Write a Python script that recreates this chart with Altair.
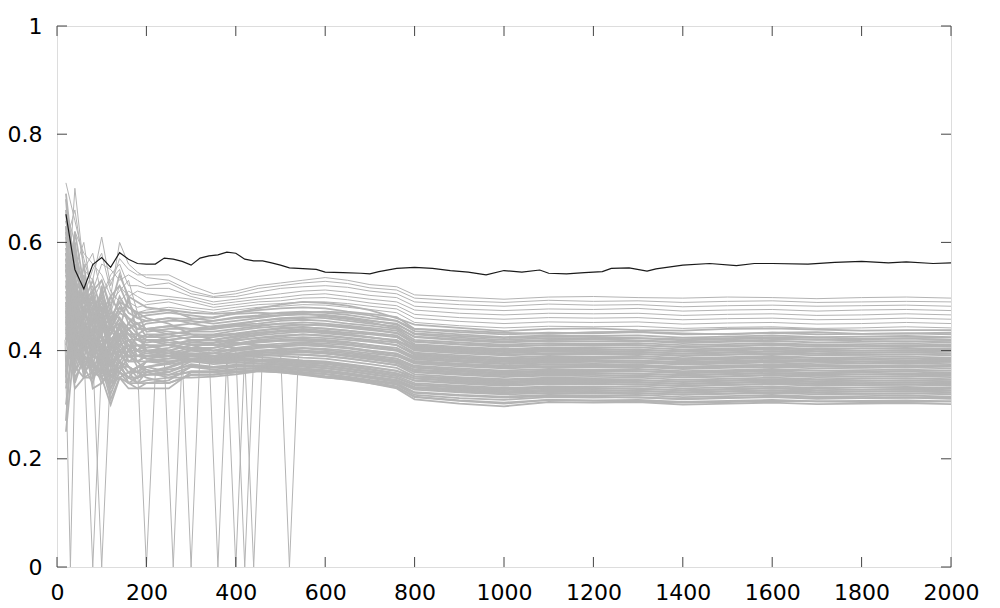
import altair as alt
import pandas as pd

# common x grid of the gray series
grid_x = [20, 40, 60, 80, 100, 120, 140, 160, 180, 200,
          250, 300, 350, 400, 450, 500, 550, 600, 650, 700, 760,
          800, 900, 1000, 1100, 1200, 1300, 1400, 1500, 1600, 1700, 1800, 1900, 2000]

# upper, sparse gray series
gray_upper = [
    [0.60,0.66,0.55,0.53,0.61,0.52,0.57,0.55,0.54,0.54, 0.54,0.52,0.505,0.51,0.52,0.525,0.53,0.535,0.53,0.522,0.518, 0.503,0.499,0.495,0.499,0.500,0.498,0.497,0.499,0.498,0.496,0.498,0.499,0.497],
    [0.52,0.62,0.58,0.56,0.54,0.50,0.60,0.56,0.545,0.535, 0.53,0.51,0.50,0.505,0.515,0.52,0.525,0.528,0.524,0.516,0.512, 0.497,0.492,0.489,0.493,0.491,0.492,0.489,0.491,0.492,0.489,0.490,0.491,0.490],
    [0.71,0.64,0.57,0.51,0.56,0.55,0.53,0.54,0.53,0.52, 0.525,0.505,0.498,0.50,0.508,0.515,0.518,0.52,0.517,0.51,0.505, 0.490,0.485,0.482,0.486,0.484,0.485,0.481,0.483,0.484,0.482,0.483,0.484,0.482],
    [0.45,0.70,0.55,0.58,0.50,0.54,0.56,0.52,0.52,0.515, 0.515,0.50,0.49,0.495,0.50,0.505,0.51,0.512,0.508,0.502,0.498, 0.482,0.477,0.474,0.477,0.476,0.478,0.473,0.475,0.476,0.473,0.475,0.476,0.474],
    [0.58,0.55,0.60,0.49,0.53,0.47,0.52,0.50,0.51,0.505, 0.50,0.495,0.485,0.49,0.495,0.498,0.503,0.505,0.50,0.495,0.49, 0.475,0.469,0.466,0.469,0.468,0.469,0.465,0.467,0.468,0.465,0.466,0.468,0.466],
    [0.66,0.60,0.50,0.55,0.58,0.51,0.49,0.51,0.50,0.49, 0.495,0.49,0.48,0.485,0.49,0.492,0.497,0.498,0.494,0.488,0.483, 0.467,0.461,0.458,0.461,0.46,0.461,0.457,0.459,0.46,0.457,0.458,0.46,0.458],
    [0.40,0.57,0.52,0.47,0.50,0.53,0.55,0.49,0.48,0.485, 0.49,0.48,0.475,0.48,0.485,0.487,0.49,0.49,0.487,0.482,0.477, 0.46,0.454,0.45,0.453,0.452,0.453,0.449,0.451,0.452,0.449,0.45,0.452,0.45],
    [0.55,0.52,0.47,0.52,0.45,0.49,0.51,0.53,0.47,0.475, 0.48,0.475,0.47,0.475,0.48,0.482,0.485,0.484,0.48,0.476,0.47, 0.452,0.446,0.442,0.445,0.444,0.445,0.441,0.443,0.444,0.441,0.442,0.444,0.442],
]

# dense gray series
gray_dense = [
    [0.50,0.49,0.53,0.44,0.48,0.45,0.50,0.47,0.46,0.465, 0.47,0.465,0.46,0.47,0.475,0.478,0.48,0.478,0.472,0.468,0.462, 0.44,0.434,0.43,0.433,0.432,0.434,0.43,0.431,0.433,0.43,0.431,0.432,0.43],
    [0.63,0.45,0.48,0.50,0.43,0.47,0.46,0.44,0.45,0.455, 0.46,0.45,0.455,0.462,0.465,0.47,0.472,0.47,0.466,0.46,0.455, 0.436,0.43,0.425,0.428,0.427,0.428,0.424,0.426,0.428,0.425,0.426,0.427,0.425],
    [0.35,0.60,0.45,0.42,0.52,0.44,0.48,0.46,0.44,0.45, 0.455,0.455,0.45,0.455,0.46,0.465,0.467,0.465,0.46,0.455,0.45, 0.43,0.424,0.42,0.423,0.422,0.423,0.419,0.421,0.423,0.42,0.421,0.422,0.42],
    [0.47,0.52,0.40,0.46,0.46,0.41,0.44,0.50,0.43,0.44, 0.445,0.44,0.445,0.45,0.455,0.46,0.462,0.46,0.455,0.45,0.445, 0.425,0.419,0.415,0.418,0.417,0.418,0.414,0.416,0.418,0.415,0.416,0.417,0.415],
    [0.53,0.41,0.50,0.39,0.44,0.48,0.42,0.45,0.47,0.435, 0.44,0.44,0.44,0.447,0.45,0.455,0.457,0.455,0.45,0.446,0.44, 0.42,0.415,0.411,0.414,0.413,0.414,0.41,0.412,0.414,0.411,0.412,0.413,0.411],
    [0.68,0.48,0.44,0.47,0.40,0.43,0.46,0.42,0.42,0.43, 0.43,0.435,0.435,0.44,0.445,0.45,0.452,0.45,0.446,0.442,0.437, 0.416,0.411,0.407,0.41,0.409,0.41,0.406,0.408,0.41,0.407,0.408,0.409,0.407],
    [0.30,0.44,0.56,0.44,0.47,0.39,0.43,0.44,0.45,0.425, 0.425,0.43,0.43,0.437,0.442,0.445,0.448,0.446,0.442,0.438,0.433, 0.412,0.407,0.403,0.406,0.405,0.406,0.402,0.404,0.406,0.403,0.404,0.405,0.403],
    [0.57,0.38,0.42,0.41,0.38,0.46,0.40,0.41,0.40,0.42, 0.42,0.425,0.425,0.43,0.437,0.44,0.443,0.441,0.437,0.433,0.428, 0.408,0.403,0.399,0.402,0.401,0.402,0.398,0.4,0.402,0.399,0.4,0.401,0.399],
    [0.43,0.54,0.38,0.48,0.42,0.37,0.45,0.43,0.41,0.41, 0.41,0.42,0.42,0.427,0.433,0.437,0.44,0.437,0.433,0.43,0.425, 0.404,0.399,0.395,0.398,0.397,0.398,0.394,0.396,0.398,0.395,0.396,0.397,0.395],
    [0.49,0.43,0.47,0.37,0.45,0.42,0.38,0.40,0.43,0.40, 0.405,0.415,0.415,0.422,0.428,0.432,0.435,0.432,0.428,0.424,0.42, 0.40,0.395,0.391,0.394,0.393,0.394,0.39,0.392,0.394,0.391,0.392,0.393,0.391],
    [0.62,0.36,0.41,0.43,0.36,0.40,0.42,0.38,0.39,0.395, 0.40,0.41,0.41,0.418,0.424,0.428,0.43,0.428,0.424,0.42,0.415, 0.396,0.391,0.387,0.39,0.389,0.39,0.386,0.388,0.39,0.387,0.388,0.389,0.387],
    [0.38,0.47,0.35,0.40,0.43,0.35,0.39,0.41,0.38,0.39, 0.395,0.405,0.405,0.413,0.42,0.423,0.425,0.423,0.42,0.416,0.41, 0.392,0.387,0.383,0.386,0.385,0.386,0.382,0.384,0.386,0.383,0.384,0.385,0.383],
    [0.45,0.40,0.44,0.35,0.39,0.38,0.36,0.39,0.40,0.385, 0.39,0.40,0.40,0.41,0.415,0.418,0.42,0.418,0.415,0.41,0.405, 0.388,0.383,0.379,0.382,0.381,0.382,0.378,0.38,0.382,0.379,0.38,0.381,0.379],
    [0.56,0.34,0.39,0.38,0.34,0.36,0.40,0.37,0.36,0.38, 0.385,0.395,0.395,0.405,0.41,0.413,0.415,0.413,0.41,0.405,0.4, 0.384,0.379,0.375,0.378,0.377,0.378,0.374,0.376,0.378,0.375,0.376,0.377,0.375],
    [0.25,0.42,0.36,0.42,0.37,0.33,0.37,0.35,0.37,0.37, 0.375,0.39,0.39,0.4,0.405,0.408,0.41,0.408,0.405,0.4,0.395, 0.38,0.375,0.371,0.374,0.373,0.374,0.37,0.372,0.374,0.371,0.372,0.373,0.371],
    [0.40,0.37,0.35,0.36,0.35,0.30,0.35,0.36,0.34,0.36, 0.37,0.385,0.385,0.395,0.4,0.403,0.405,0.403,0.4,0.395,0.39, 0.376,0.371,0.367,0.37,0.369,0.37,0.366,0.368,0.37,0.367,0.368,0.369,0.367],
    [0.52,0.45,0.37,0.34,0.40,0.34,0.38,0.34,0.35,0.355, 0.36,0.38,0.38,0.39,0.395,0.398,0.4,0.398,0.395,0.39,0.385, 0.372,0.367,0.363,0.366,0.365,0.366,0.362,0.364,0.366,0.363,0.364,0.365,0.363],
    [0.27,0.50,0.43,0.45,0.48,0.42,0.44,0.42,0.41,0.40, 0.39,0.39,0.385,0.39,0.392,0.395,0.397,0.395,0.392,0.388,0.382, 0.368,0.363,0.359,0.362,0.361,0.362,0.358,0.36,0.362,0.359,0.36,0.361,0.359],
    [0.64,0.56,0.49,0.51,0.44,0.50,0.47,0.46,0.44,0.44, 0.43,0.42,0.41,0.405,0.40,0.40,0.398,0.395,0.39,0.385,0.38, 0.364,0.359,0.355,0.358,0.357,0.358,0.354,0.356,0.358,0.355,0.356,0.357,0.355],
    [0.48,0.58,0.52,0.47,0.51,0.46,0.49,0.48,0.47,0.46, 0.45,0.43,0.42,0.415,0.41,0.405,0.4,0.396,0.39,0.384,0.378, 0.36,0.355,0.351,0.354,0.353,0.354,0.35,0.352,0.354,0.351,0.352,0.353,0.351],
    [0.55,0.47,0.46,0.49,0.46,0.43,0.46,0.43,0.42,0.43, 0.42,0.41,0.40,0.40,0.398,0.395,0.392,0.39,0.385,0.38,0.373, 0.356,0.351,0.347,0.35,0.349,0.35,0.346,0.348,0.35,0.347,0.348,0.349,0.347],
    [0.42,0.53,0.50,0.45,0.49,0.44,0.43,0.45,0.43,0.42, 0.41,0.40,0.395,0.395,0.392,0.39,0.387,0.385,0.38,0.375,0.368, 0.352,0.347,0.343,0.346,0.345,0.346,0.342,0.344,0.346,0.343,0.344,0.345,0.343],
    [0.60,0.50,0.45,0.42,0.47,0.41,0.45,0.40,0.40,0.41, 0.40,0.395,0.39,0.39,0.388,0.385,0.382,0.38,0.375,0.37,0.363, 0.348,0.343,0.339,0.342,0.341,0.342,0.338,0.34,0.342,0.339,0.34,0.341,0.339],
    [0.36,0.46,0.54,0.40,0.42,0.39,0.41,0.42,0.39,0.40, 0.395,0.39,0.385,0.385,0.383,0.38,0.378,0.375,0.37,0.365,0.358, 0.344,0.339,0.335,0.338,0.337,0.338,0.334,0.336,0.338,0.335,0.336,0.337,0.335],
    [0.50,0.39,0.41,0.44,0.39,0.37,0.39,0.38,0.38,0.39, 0.385,0.385,0.38,0.382,0.38,0.377,0.374,0.371,0.366,0.36,0.353, 0.34,0.335,0.331,0.334,0.333,0.334,0.33,0.332,0.334,0.331,0.332,0.333,0.331],
    [0.44,0.35,0.38,0.36,0.41,0.35,0.38,0.36,0.37,0.38, 0.375,0.38,0.375,0.378,0.376,0.373,0.37,0.367,0.362,0.356,0.349, 0.336,0.331,0.327,0.33,0.329,0.33,0.326,0.328,0.33,0.327,0.328,0.329,0.327],
    [0.58,0.43,0.39,0.37,0.36,0.34,0.37,0.35,0.35,0.37, 0.36,0.375,0.37,0.374,0.372,0.37,0.366,0.363,0.358,0.352,0.345, 0.332,0.327,0.323,0.326,0.325,0.326,0.322,0.324,0.326,0.323,0.324,0.325,0.323],
    [0.33,0.41,0.37,0.39,0.38,0.32,0.36,0.34,0.34,0.34, 0.345,0.37,0.365,0.37,0.37,0.367,0.363,0.36,0.355,0.349,0.342, 0.328,0.323,0.319,0.322,0.321,0.322,0.318,0.32,0.322,0.319,0.32,0.321,0.319],
    [0.46,0.33,0.35,0.35,0.37,0.31,0.35,0.33,0.33,0.33, 0.33,0.36,0.36,0.365,0.368,0.365,0.36,0.357,0.352,0.346,0.34, 0.323,0.318,0.315,0.318,0.317,0.318,0.314,0.316,0.318,0.315,0.316,0.317,0.315],
    [0.39,0.38,0.43,0.33,0.34,0.36,0.40,0.37,0.36,0.35, 0.34,0.355,0.355,0.36,0.365,0.362,0.357,0.353,0.35,0.344,0.337, 0.318,0.312,0.309,0.314,0.313,0.314,0.31,0.312,0.314,0.311,0.312,0.313,0.311],
    [0.54,0.44,0.40,0.41,0.35,0.38,0.42,0.39,0.38,0.36, 0.35,0.35,0.352,0.356,0.362,0.36,0.355,0.35,0.347,0.342,0.334, 0.314,0.307,0.302,0.309,0.308,0.309,0.305,0.307,0.309,0.306,0.307,0.308,0.306],
    [0.41,0.49,0.42,0.43,0.40,0.35,0.37,0.40,0.37,0.365, 0.355,0.36,0.36,0.362,0.363,0.362,0.358,0.352,0.348,0.34,0.33, 0.31,0.302,0.297,0.305,0.304,0.305,0.3,0.302,0.304,0.301,0.302,0.303,0.301],
]

# further gray series inside the dense core
gray_filler = [
    [0.47,0.55,0.49,0.53,0.47,0.50,0.52,0.48,0.47,0.47, 0.475,0.47,0.468,0.47,0.478,0.485,0.49,0.488,0.483,0.475,0.46, 0.448,0.442,0.436,0.44,0.441,0.438,0.437,0.44,0.441,0.439,0.437,0.438,0.438],
    [0.56,0.46,0.51,0.45,0.50,0.44,0.47,0.49,0.46,0.455, 0.46,0.458,0.462,0.468,0.47,0.468,0.47,0.472,0.47,0.465,0.455, 0.44,0.437,0.433,0.431,0.434,0.435,0.432,0.43,0.433,0.434,0.431,0.432,0.433],
    [0.44,0.58,0.47,0.49,0.44,0.46,0.49,0.45,0.44,0.44, 0.445,0.45,0.443,0.448,0.455,0.458,0.46,0.463,0.458,0.452,0.442, 0.426,0.421,0.417,0.42,0.421,0.419,0.416,0.418,0.42,0.421,0.418,0.417,0.418],
    [0.61,0.50,0.43,0.46,0.48,0.40,0.45,0.43,0.43,0.425, 0.43,0.437,0.44,0.445,0.447,0.45,0.448,0.447,0.444,0.44,0.432, 0.417,0.412,0.409,0.41,0.412,0.41,0.407,0.409,0.411,0.41,0.408,0.409,0.41],
    [0.37,0.45,0.48,0.43,0.41,0.44,0.41,0.44,0.42,0.415, 0.42,0.425,0.428,0.432,0.437,0.442,0.444,0.44,0.437,0.432,0.425, 0.41,0.405,0.401,0.404,0.403,0.401,0.399,0.402,0.404,0.402,0.4,0.401,0.402],
    [0.51,0.40,0.45,0.41,0.43,0.38,0.43,0.40,0.41,0.405, 0.41,0.418,0.42,0.425,0.43,0.436,0.437,0.435,0.43,0.425,0.418, 0.402,0.397,0.393,0.395,0.396,0.394,0.391,0.393,0.395,0.394,0.392,0.393,0.394],
    [0.66,0.42,0.40,0.44,0.38,0.41,0.39,0.42,0.40,0.40, 0.40,0.41,0.414,0.42,0.423,0.426,0.43,0.427,0.423,0.418,0.41, 0.394,0.389,0.385,0.387,0.388,0.386,0.384,0.386,0.388,0.386,0.384,0.385,0.386],
    [0.42,0.51,0.37,0.39,0.41,0.37,0.41,0.38,0.38,0.39, 0.39,0.402,0.405,0.412,0.418,0.42,0.422,0.42,0.416,0.41,0.402, 0.386,0.381,0.377,0.38,0.38,0.378,0.376,0.378,0.38,0.379,0.377,0.378,0.379],
    [0.48,0.37,0.42,0.36,0.38,0.35,0.38,0.37,0.36,0.37, 0.378,0.39,0.395,0.403,0.408,0.41,0.413,0.41,0.406,0.4,0.393, 0.378,0.373,0.369,0.371,0.372,0.37,0.368,0.37,0.372,0.371,0.369,0.37,0.371],
    [0.59,0.44,0.38,0.38,0.36,0.36,0.36,0.35,0.35,0.36, 0.368,0.382,0.386,0.393,0.398,0.402,0.404,0.401,0.397,0.392,0.385, 0.37,0.365,0.361,0.363,0.364,0.362,0.36,0.362,0.364,0.363,0.361,0.362,0.363],
    [0.34,0.48,0.44,0.40,0.45,0.39,0.40,0.39,0.39,0.385, 0.38,0.385,0.383,0.387,0.39,0.392,0.393,0.39,0.386,0.38,0.373, 0.361,0.357,0.353,0.356,0.355,0.353,0.351,0.353,0.355,0.354,0.352,0.353,0.354],
    [0.52,0.43,0.47,0.43,0.44,0.42,0.44,0.41,0.41,0.40, 0.395,0.39,0.385,0.386,0.384,0.383,0.38,0.378,0.374,0.369,0.362, 0.353,0.349,0.345,0.348,0.347,0.345,0.343,0.345,0.347,0.346,0.344,0.345,0.346],
    [0.45,0.52,0.43,0.46,0.40,0.45,0.42,0.44,0.42,0.41, 0.40,0.392,0.385,0.383,0.381,0.379,0.376,0.372,0.367,0.362,0.355, 0.345,0.341,0.337,0.34,0.339,0.337,0.335,0.337,0.339,0.338,0.336,0.337,0.338],
    [0.63,0.47,0.41,0.42,0.43,0.37,0.40,0.39,0.38,0.38, 0.38,0.382,0.378,0.379,0.377,0.375,0.372,0.368,0.363,0.357,0.35, 0.337,0.333,0.329,0.332,0.331,0.329,0.327,0.329,0.331,0.33,0.328,0.329,0.33],
    [0.40,0.39,0.44,0.38,0.36,0.36,0.38,0.36,0.36,0.36, 0.365,0.372,0.37,0.372,0.371,0.368,0.365,0.361,0.356,0.35,0.343, 0.33,0.325,0.321,0.324,0.323,0.321,0.319,0.321,0.323,0.322,0.32,0.321,0.322],
    [0.49,0.36,0.39,0.37,0.39,0.33,0.36,0.35,0.34,0.345, 0.35,0.362,0.362,0.366,0.367,0.364,0.36,0.356,0.351,0.345,0.338, 0.322,0.317,0.313,0.316,0.315,0.313,0.311,0.313,0.315,0.314,0.312,0.313,0.314],
    [0.58,0.53,0.46,0.51,0.53,0.48,0.54,0.50,0.49,0.48, 0.475,0.46,0.455,0.46,0.463,0.465,0.468,0.466,0.462,0.456,0.448, 0.432,0.427,0.423,0.426,0.425,0.423,0.421,0.423,0.425,0.424,0.422,0.423,0.424],
    [0.46,0.62,0.52,0.48,0.50,0.45,0.48,0.46,0.45,0.44, 0.435,0.43,0.428,0.43,0.433,0.435,0.436,0.434,0.43,0.425,0.418, 0.406,0.401,0.397,0.4,0.399,0.397,0.395,0.397,0.399,0.398,0.396,0.397,0.398],
    [0.55,0.40,0.46,0.50,0.42,0.44,0.45,0.43,0.43,0.42, 0.415,0.412,0.41,0.414,0.416,0.418,0.418,0.416,0.412,0.407,0.4, 0.39,0.385,0.381,0.384,0.383,0.381,0.379,0.381,0.383,0.382,0.38,0.381,0.382],
    [0.38,0.45,0.41,0.47,0.40,0.41,0.43,0.40,0.39,0.39, 0.39,0.392,0.39,0.394,0.396,0.397,0.397,0.395,0.391,0.385,0.377, 0.365,0.361,0.357,0.36,0.359,0.357,0.355,0.357,0.359,0.358,0.356,0.357,0.358],
    [0.57,0.49,0.45,0.41,0.46,0.40,0.43,0.42,0.40,0.395, 0.39,0.385,0.38,0.382,0.383,0.382,0.38,0.377,0.372,0.366,0.358, 0.349,0.345,0.341,0.344,0.343,0.341,0.339,0.341,0.343,0.342,0.34,0.341,0.342],
    [0.47,0.41,0.38,0.40,0.37,0.35,0.37,0.37,0.35,0.355, 0.355,0.37,0.368,0.372,0.373,0.371,0.367,0.364,0.359,0.353,0.346, 0.333,0.329,0.325,0.328,0.327,0.325,0.323,0.325,0.327,0.326,0.324,0.325,0.326],
    [0.43,0.40,0.36,0.38,0.35,0.34,0.35,0.34,0.33,0.34, 0.34,0.355,0.356,0.36,0.362,0.36,0.356,0.351,0.346,0.34,0.332, 0.315,0.308,0.304,0.309,0.307,0.306,0.304,0.305,0.307,0.306,0.305,0.305,0.306],
    [0.69,0.54,0.45,0.45,0.47,0.43,0.46,0.44,0.42,0.42, 0.41,0.405,0.40,0.402,0.405,0.408,0.41,0.408,0.404,0.398,0.39, 0.381,0.376,0.372,0.375,0.374,0.372,0.37,0.372,0.374,0.373,0.371,0.372,0.373],
]

# short dips to zero seen below the band
spike_x = [30, 80, 100, 200, 260, 300, 360, 400, 420, 440, 520]
spike_left_y = [0.42, 0.40, 0.39, 0.37, 0.38, 0.39, 0.40, 0.39, 0.40, 0.39, 0.40]
spike_right_y = [0.44, 0.38, 0.37, 0.36, 0.39, 0.40, 0.39, 0.40, 0.39, 0.40, 0.39]
spike_half_width = [12, 20, 20, 20, 20, 20, 20, 20, 20, 20, 20]

# highlighted black series
black_x = [20, 40, 60, 80, 100, 120, 140, 160, 180, 200, 220, 240, 260, 280, 300, 320, 340, 360, 380, 400,
           420, 440, 460, 480, 500, 520, 540, 560, 580, 600, 640, 680, 700, 720, 760, 800, 840, 880, 920, 960,
           1000, 1040, 1080, 1100, 1140, 1180, 1220, 1240, 1280, 1320, 1340, 1400, 1460, 1520, 1560, 1600,
           1680, 1740, 1800, 1860, 1900, 1960, 2000]
black_y = [0.652, 0.550, 0.514, 0.559, 0.572, 0.554, 0.581, 0.569, 0.561, 0.560, 0.560, 0.571, 0.569, 0.565,
           0.558, 0.571, 0.575, 0.577, 0.582, 0.580, 0.569, 0.566, 0.566, 0.562, 0.558, 0.553, 0.552, 0.551,
           0.550, 0.545, 0.544, 0.543, 0.542, 0.546, 0.552, 0.554, 0.552, 0.548, 0.545, 0.540, 0.548, 0.545,
           0.549, 0.543, 0.542, 0.544, 0.546, 0.552, 0.553, 0.547, 0.551, 0.558, 0.561, 0.557, 0.561, 0.561,
           0.560, 0.563, 0.565, 0.562, 0.564, 0.561, 0.562]

x_ticks = [0, 200, 400, 600, 800, 1000, 1200, 1400, 1600, 1800, 2000]
y_ticks = [0, 0.2, 0.4, 0.6, 0.8, 1]

W, H = 894, 541
TICK = 10

rows = []
for group, lines in (("u", gray_upper), ("d", gray_dense), ("f", gray_filler)):
    for i, ys in enumerate(lines):
        for x, y in zip(grid_x, ys):
            rows.append({"series": f"{group}{i}", "grp": group, "x": x, "y": y})
for j, (sx, yl, yr, hw) in enumerate(zip(spike_x, spike_left_y, spike_right_y, spike_half_width)):
    rows.append({"series": f"s{j}", "grp": "s", "x": sx - hw, "y": yl})
    rows.append({"series": f"s{j}", "grp": "s", "x": sx, "y": 0.0})
    rows.append({"series": f"s{j}", "grp": "s", "x": sx + hw, "y": yr})
gray_df = pd.DataFrame(rows)
black_df = pd.DataFrame({"x": black_x, "y": black_y})
xt_df = pd.DataFrame({"v": x_ticks})
yt_df = pd.DataFrame({"v": y_ticks})

font = "DejaVu Sans"
xscale = alt.Scale(domain=[0, 2000], nice=False, zero=False)
yscale = alt.Scale(domain=[0, 1], nice=False, zero=False)

xaxis = alt.Axis(values=x_ticks, format="d", grid=False, domain=False, ticks=False,
                 labelFontSize=22, labelFont=font, labelColor="#000000", labelPadding=15,
                 title=None, labelFlush=False)
yaxis = alt.Axis(values=y_ticks, format="~g", grid=False, domain=False, ticks=False,
                 labelFontSize=22, labelFont=font, labelColor="#000000", labelPadding=15,
                 title=None)

gray_thin = alt.Chart(gray_df).transform_filter(
    "datum.grp == 'u' || datum.grp == 's'"
).mark_line(color="#b4b4b4", strokeWidth=1, clip=True).encode(
    x=alt.X("x:Q", scale=xscale, axis=xaxis),
    y=alt.Y("y:Q", scale=yscale, axis=yaxis),
    detail="series:N",
)

gray_core = alt.Chart(gray_df).transform_filter(
    "datum.grp == 'd' || datum.grp == 'f'"
).mark_line(color="#b4b4b4", strokeWidth=1.8, clip=True).encode(
    x=alt.X("x:Q", scale=xscale),
    y=alt.Y("y:Q", scale=yscale),
    detail="series:N",
)

black = alt.Chart(black_df).mark_line(color="#1a1a1a", strokeWidth=1.2, clip=True).encode(
    x=alt.X("x:Q", scale=xscale),
    y=alt.Y("y:Q", scale=yscale),
)

tick_color = "#444444"
xt_bottom = alt.Chart(xt_df).mark_rule(color=tick_color, strokeWidth=1).encode(
    x=alt.X("v:Q", scale=xscale), y=alt.value(H), y2=alt.value(H - TICK))
xt_top = alt.Chart(xt_df).mark_rule(color=tick_color, strokeWidth=1).encode(
    x=alt.X("v:Q", scale=xscale), y=alt.value(0), y2=alt.value(TICK))
yt_left = alt.Chart(yt_df).mark_rule(color=tick_color, strokeWidth=1).encode(
    y=alt.Y("v:Q", scale=yscale), x=alt.value(0), x2=alt.value(TICK))
yt_right = alt.Chart(yt_df).mark_rule(color=tick_color, strokeWidth=1).encode(
    y=alt.Y("v:Q", scale=yscale), x=alt.value(W), x2=alt.value(W - TICK))

chart = alt.layer(gray_thin, gray_core, black, xt_bottom, xt_top, yt_left, yt_right).properties(
    width=W, height=H,
    autosize=alt.AutoSizeParams(type="none"),
    padding={"left": 49, "top": 18, "right": 30, "bottom": 40},
).configure_view(stroke="#8c8c8c", strokeWidth=1.3).configure(background="#ffffff")

chart.save("out.html", embed_options={"renderer": "svg", "actions": False})
